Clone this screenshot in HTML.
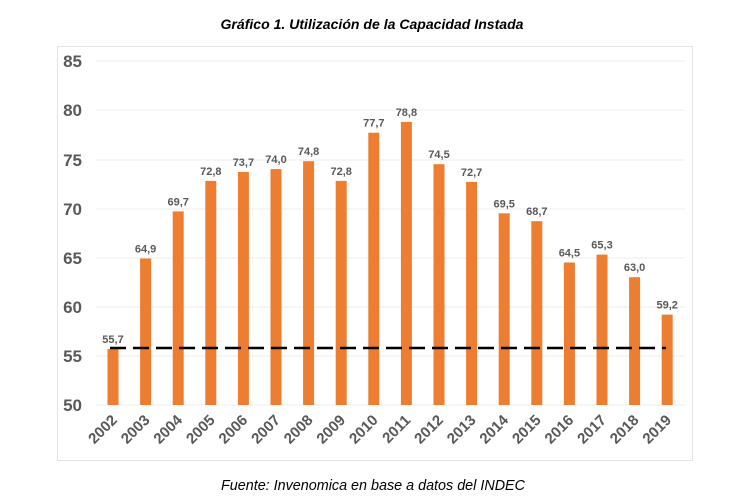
<!DOCTYPE html>
<html><head><meta charset="utf-8"><style>
html,body{margin:0;padding:0;background:#fff;}
svg{display:block;}
</style></head><body>
<svg width="751" height="500" viewBox="0 0 751 500" xmlns="http://www.w3.org/2000/svg" font-family="Liberation Sans, sans-serif">
<text x="372" y="29" text-anchor="middle" font-size="14" font-weight="bold" font-style="italic" fill="#000" textLength="303" lengthAdjust="spacingAndGlyphs">Gráfico 1. Utilización de la Capacidad Instada</text>
<rect x="57.5" y="46.5" width="635" height="414" fill="none" stroke="#e3e3e3"/>
<g stroke="#ececec" stroke-width="1">
<line x1="96" x2="685" y1="61" y2="61"/><line x1="96" x2="685" y1="110" y2="110"/>
<line x1="96" x2="685" y1="160" y2="160"/><line x1="96" x2="685" y1="209" y2="209"/>
<line x1="96" x2="685" y1="258" y2="258"/><line x1="96" x2="685" y1="307" y2="307"/>
<line x1="96" x2="685" y1="356" y2="356"/><line x1="96" x2="685" y1="405" y2="405"/>
</g>
<g font-size="17" font-weight="bold" fill="#595959" text-anchor="end">
<text x="82" y="67">85</text><text x="82" y="116">80</text><text x="82" y="166">75</text>
<text x="82" y="215">70</text><text x="82" y="264">65</text><text x="82" y="313">60</text>
<text x="82" y="362">55</text><text x="82" y="411">50</text>
</g>
<g fill="#ED7D31">
<rect x="107.5" y="349" width="11" height="56"/>
<rect x="140.1" y="258.5" width="11" height="146.5"/>
<rect x="172.7" y="211.4" width="11" height="193.6"/>
<rect x="205.3" y="180.9" width="11" height="224.1"/>
<rect x="237.9" y="172" width="11" height="233"/>
<rect x="270.5" y="169.1" width="11" height="235.9"/>
<rect x="303.1" y="161.2" width="11" height="243.8"/>
<rect x="335.7" y="180.9" width="11" height="224.1"/>
<rect x="368.3" y="132.7" width="11" height="272.3"/>
<rect x="400.9" y="121.9" width="11" height="283.1"/>
<rect x="433.5" y="164.2" width="11" height="240.8"/>
<rect x="466.1" y="181.9" width="11" height="223.1"/>
<rect x="498.7" y="213.3" width="11" height="191.7"/>
<rect x="531.3" y="221.2" width="11" height="183.8"/>
<rect x="563.9" y="262.5" width="11" height="142.5"/>
<rect x="596.5" y="254.6" width="11" height="150.4"/>
<rect x="629.1" y="277.2" width="11" height="127.8"/>
<rect x="661.7" y="314.6" width="11" height="90.4"/>
</g>
<g font-size="11" font-weight="bold" fill="#595959" text-anchor="middle">
<text x="113" y="343">55,7</text>
<text x="145.6" y="252.5">64,9</text>
<text x="178.2" y="205.4">69,7</text>
<text x="210.8" y="174.9">72,8</text>
<text x="243.4" y="166">73,7</text>
<text x="276" y="163.1">74,0</text>
<text x="308.6" y="155.2">74,8</text>
<text x="341.2" y="174.9">72,8</text>
<text x="373.8" y="126.7">77,7</text>
<text x="406.4" y="115.9">78,8</text>
<text x="439" y="158.2">74,5</text>
<text x="471.6" y="175.9">72,7</text>
<text x="504.2" y="207.3">69,5</text>
<text x="536.8" y="215.2">68,7</text>
<text x="569.4" y="256.5">64,5</text>
<text x="602" y="248.6">65,3</text>
<text x="634.6" y="271.2">63,0</text>
<text x="667.2" y="308.6">59,2</text>
</g>
<g font-size="15" font-weight="bold" fill="#595959" text-anchor="end">
<text transform="translate(118,421) rotate(-45)">2002</text>
<text transform="translate(150.6,421) rotate(-45)">2003</text>
<text transform="translate(183.2,421) rotate(-45)">2004</text>
<text transform="translate(215.8,421) rotate(-45)">2005</text>
<text transform="translate(248.4,421) rotate(-45)">2006</text>
<text transform="translate(281,421) rotate(-45)">2007</text>
<text transform="translate(313.6,421) rotate(-45)">2008</text>
<text transform="translate(346.2,421) rotate(-45)">2009</text>
<text transform="translate(378.8,421) rotate(-45)">2010</text>
<text transform="translate(411.4,421) rotate(-45)">2011</text>
<text transform="translate(444,421) rotate(-45)">2012</text>
<text transform="translate(476.6,421) rotate(-45)">2013</text>
<text transform="translate(509.2,421) rotate(-45)">2014</text>
<text transform="translate(541.8,421) rotate(-45)">2015</text>
<text transform="translate(574.4,421) rotate(-45)">2016</text>
<text transform="translate(607,421) rotate(-45)">2017</text>
<text transform="translate(639.6,421) rotate(-45)">2018</text>
<text transform="translate(672.2,421) rotate(-45)">2019</text>
</g>
<line x1="110" x2="666" y1="348" y2="348" stroke="#000" stroke-width="2.5" stroke-dasharray="16,7"/>
<text x="373" y="490" text-anchor="middle" font-size="15" font-style="italic" fill="#000" textLength="304" lengthAdjust="spacingAndGlyphs">Fuente: Invenomica en base a datos del INDEC</text>
</svg>
</body></html>
